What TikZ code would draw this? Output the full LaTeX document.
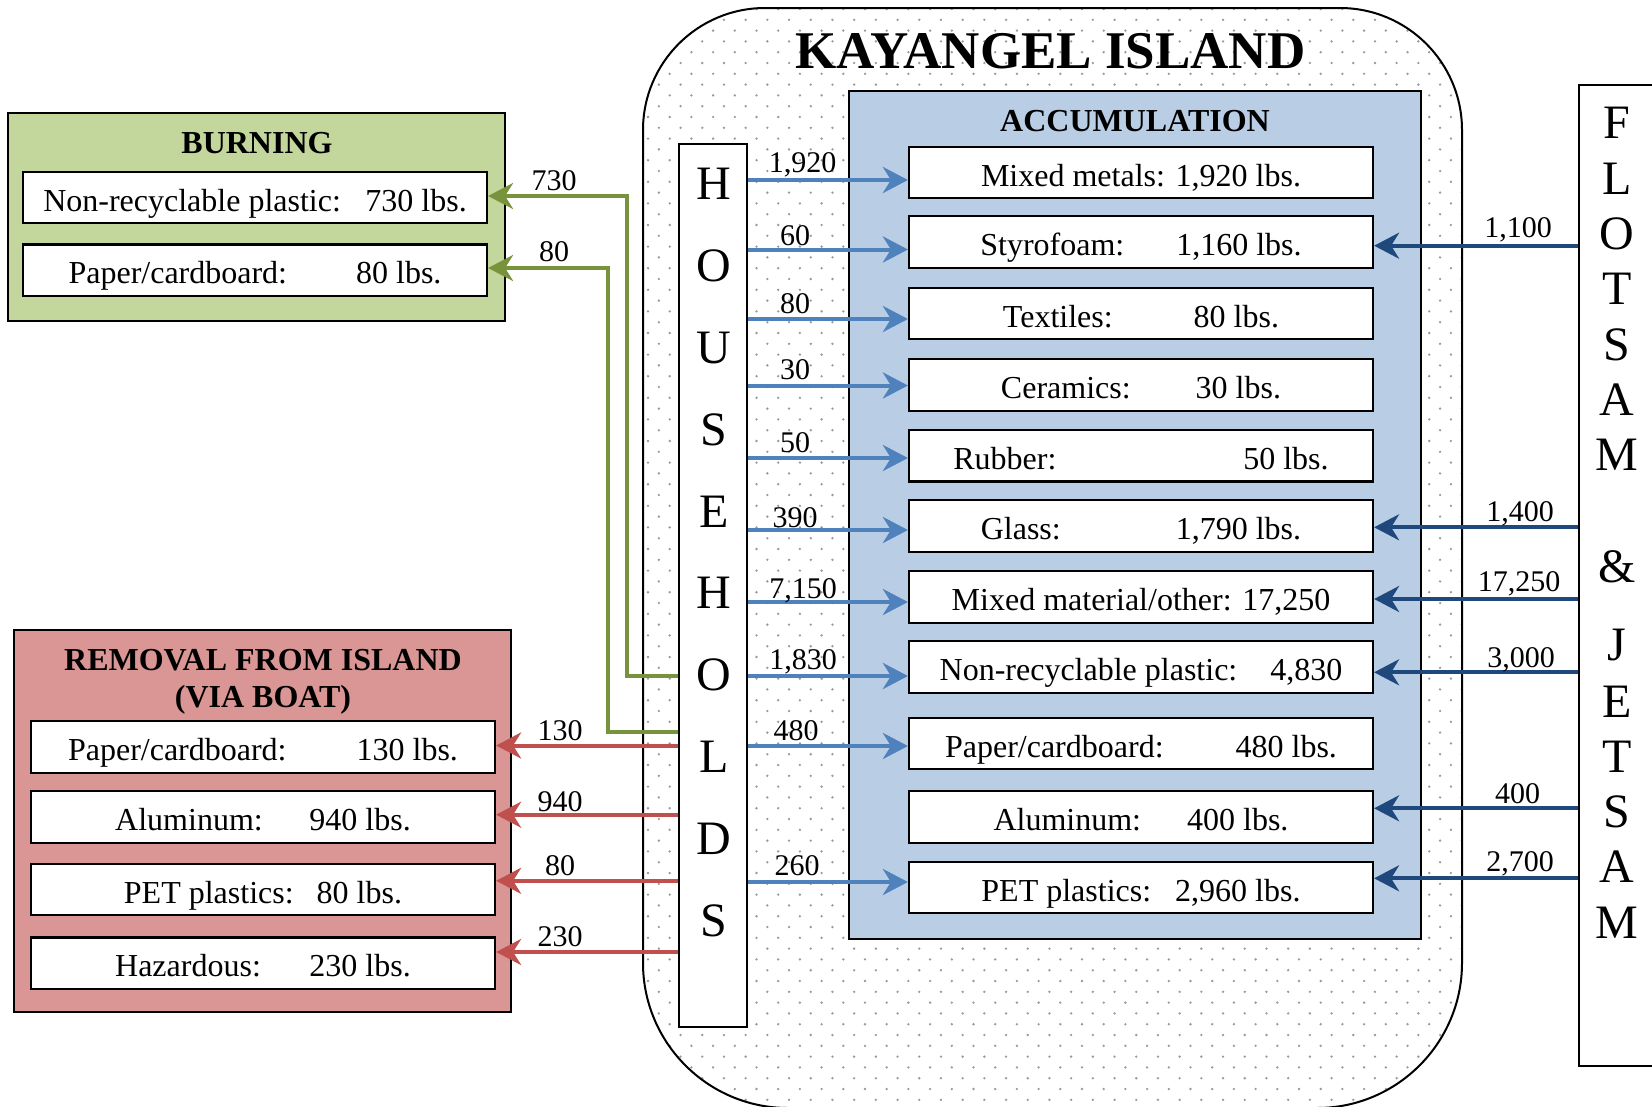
\documentclass[tikz,border=0pt]{standalone}
\usepackage{fontspec}
\setmainfont{Liberation Serif}
\usetikzlibrary{arrows.meta}
\definecolor{burnfill}{HTML}{C3D69B}
\definecolor{remfill}{HTML}{D99694}
\definecolor{accfill}{HTML}{B9CDE5}
\definecolor{blueA}{HTML}{4F81BD}
\definecolor{darkB}{HTML}{1F497D}
\definecolor{redA}{HTML}{C0504D}
\definecolor{greenA}{HTML}{77933C}
\definecolor{dotgray}{HTML}{999999}
\tikzset{
 panel/.style={draw=black, line width=2.4pt, inner sep=0pt},
 itembox/.style={draw=black, fill=white, line width=2.2pt, minimum width=464pt, minimum height=51.5pt, inner sep=0pt, text height=27pt, text depth=0pt, font=\fontsize{32}{38}\selectfont},
 paneltitle/.style={anchor=base, font=\bfseries\fontsize{32}{38}\selectfont, inner sep=0pt},
 flowlabel/.style={anchor=base, font=\fontsize{30}{36}\selectfont, inner sep=0pt},
 bigletter/.style={anchor=base, font=\fontsize{48}{56}\selectfont, inner sep=0pt},
 flow/.style={line width=4pt, -{Stealth[length=25pt, width=26pt, inset=8pt]}},
 hhflow/.style={flow, draw=blueA},
 fjflow/.style={flow, draw=darkB},
 remflow/.style={flow, draw=redA},
 burnflow/.style={flow, draw=greenA, line width=3.5pt},
}
\begin{document}
\begin{tikzpicture}[x=1pt,y=-1pt]
\useasboundingbox (0,0) rectangle (1652,1106);
\fill[white] (0,0) rectangle (1652,1106);
% island with dots
\begin{scope}
\clip (643,130) .. controls (643,62.7) and (697.7,8) .. (765,8) -- (1340,8) .. controls (1407.3,8) and (1462,62.7) .. (1462,130) -- (1462,963) .. controls (1462,1043) and (1397,1108) .. (1317,1108) -- (788,1108) .. controls (708,1108) and (643,1043) .. (643,963) -- cycle;
\foreach \j in {0,...,102} {
  \foreach \i in {0,...,38} {
    \fill[dotgray] ({648+21.7*\i+10.85*mod(\j,2)},{9+10.8*\j}) circle (1.3pt);
  }
}
\end{scope}
\draw[line width=2pt] (643,130) .. controls (643,62.7) and (697.7,8) .. (765,8) -- (1340,8) .. controls (1407.3,8) and (1462,62.7) .. (1462,130) -- (1462,963) .. controls (1462,1043) and (1397,1108) .. (1317,1108) -- (788,1108) .. controls (708,1108) and (643,1043) .. (643,963) -- cycle;
\node[anchor=base, font=\bfseries\fontsize{53}{60}\selectfont, inner sep=0pt] (title) at (1050.5,68.6) {KAYANGEL ISLAND};

% accumulation
\node[panel, fill=accfill, line width=2.2pt, minimum width=572pt, minimum height=848pt] (acc) at (1135,515) {};
\node[paneltitle] (acctitle) at (1135,131.7) {ACCUMULATION};
\node[itembox] (a1) at (1141,172.5) {Mixed metals: 1,920 lbs.};
\node[itembox] (a2) at (1141,242) {Styrofoam:\hspace{52pt}1,160 lbs.};
\node[itembox] (a3) at (1141,313.5) {Textiles:\hspace{81pt}80 lbs.};
\node[itembox] (a4) at (1141,385) {Ceramics:\hspace{65pt}30 lbs.};
\node[itembox] (a5) at (1141,455.7) {Rubber:\hspace{187pt}50 lbs.};
\node[itembox] (a6) at (1141,526) {Glass:\hspace{115pt}1,790 lbs.};
\node[itembox] (a7) at (1141,597) {Mixed material/other: 17,250};
\node[itembox] (a8) at (1141,667) {Non-recyclable plastic:\hspace{33pt}4,830};
\node[itembox] (a9) at (1141,743.5) {Paper/cardboard:\hspace{72pt}480 lbs.};
\node[itembox] (a10) at (1141,817) {Aluminum:\hspace{46pt}400 lbs.};
\node[itembox] (a11) at (1141,887.5) {PET plastics:\hspace{24pt}2,960 lbs.};

% households
\node[draw, fill=white, line width=2pt, minimum width=68pt, minimum height=883pt, inner sep=0pt] (hh) at (713,585.5) {};
\foreach \l/\yy [count=\k] in {H/183, O/265, U/347, S/429, E/511, H/592.5, O/674, L/756, D/838, S/920}
  \node[bigletter] (hl\k) at (714,\yy+16) {\l};

% flotsam & jetsam
\node[draw, fill=white, line width=2pt, minimum width=100pt, minimum height=981pt, inner sep=0pt, anchor=north west] (fj) at (1578,84) {};
\foreach \l/\yy [count=\k] in {F/122, L/178, O/233, T/288, S/344, A/399, M/454, \&/566, J/644, E/701, T/756, S/811, A/866.5, M/922.5}
  \node[bigletter] (fl\k) at (1617,\yy+16) {\l};

% burning
\node[panel, fill=burnfill, minimum width=497pt, minimum height=208pt] (burn) at (256.5,217) {};
\node[paneltitle] (burntitle) at (257,153) {BURNING};
\node[itembox] (b1) at (255,197.5) {Non-recyclable plastic:\hspace{24.5pt}730 lbs.};
\node[itembox] (b2) at (255,270.2) {Paper/cardboard:\hspace{69pt}80 lbs.};

% removal
\node[panel, fill=remfill, minimum width=497pt, minimum height=382pt] (rem) at (262.5,821) {};
\node[paneltitle] (remtitle1) at (263,670.5) {REMOVAL FROM ISLAND};
\node[paneltitle] (remtitle2) at (263,707) {(VIA BOAT)};
\node[itembox] (r1) at (263,747) {Paper/cardboard:\hspace{70pt}130 lbs.};
\node[itembox] (r2) at (263,817) {Aluminum:\hspace{46.6pt}940 lbs.};
\node[itembox] (r3) at (263,889.5) {PET plastics:\hspace{23pt}80 lbs.};
\node[itembox] (r4) at (263,963.3) {Hazardous:\hspace{48.6pt}230 lbs.};

% flows
\foreach \t/\yy in {a1/180, a2/249.5, a3/319, a4/385.5, a5/458, a6/530, a7/602, a8/676, a9/746, a11/882}
  \draw[hhflow] (hh.east |- 0,\yy) -- (\t.west |- 0,\yy);
\foreach \t/\yy in {a2/245.7, a6/527.3, a7/599, a8/672.3, a10/808.3, a11/878.3}
  \draw[fjflow] (fj.west |- 0,\yy) -- (\t.east |- 0,\yy);
\foreach \t/\yy in {r1/745.5, r2/814.7, r3/880.8, r4/952}
  \draw[remflow] (hh.west |- 0,\yy) -- (\t.east |- 0,\yy);
\draw[burnflow] (hh.west |- 0,676) -| (627,196) -- (b1.east |- 0,196);
\draw[burnflow] (hh.west |- 0,732) -| (608,268) -- (b2.east |- 0,268);

% labels
\node[flowlabel] (h1) at (802.7,172.7) {1,920};
\node[flowlabel] (h2) at (795,245) {60};
\node[flowlabel] (h3) at (795,313) {80};
\node[flowlabel] (h4) at (795,379) {30};
\node[flowlabel] (h5) at (795,452.7) {50};
\node[flowlabel] (h6) at (795,527) {390};
\node[flowlabel] (h7) at (803,598) {7,150};
\node[flowlabel] (h8) at (803,669) {1,830};
\node[flowlabel] (h9) at (796,740) {480};
\node[flowlabel] (h11) at (797,875) {260};
\node[flowlabel] (f2) at (1518,237) {1,100};
\node[flowlabel] (f6) at (1520,521.7) {1,400};
\node[flowlabel] (f7) at (1519,591.7) {17,250};
\node[flowlabel] (f8) at (1521,667) {3,000};
\node[flowlabel] (f10) at (1517.5,803) {400};
\node[flowlabel] (f11) at (1520,871.7) {2,700};
\node[flowlabel] (q1) at (560,740) {130};
\node[flowlabel] (q2) at (560,811.7) {940};
\node[flowlabel] (q3) at (560,875.7) {80};
\node[flowlabel] (q4) at (560,946.7) {230};
\node[flowlabel] (g1) at (554,190) {730};
\node[flowlabel] (g2) at (554,261.7) {80};
\end{tikzpicture}
\end{document}
